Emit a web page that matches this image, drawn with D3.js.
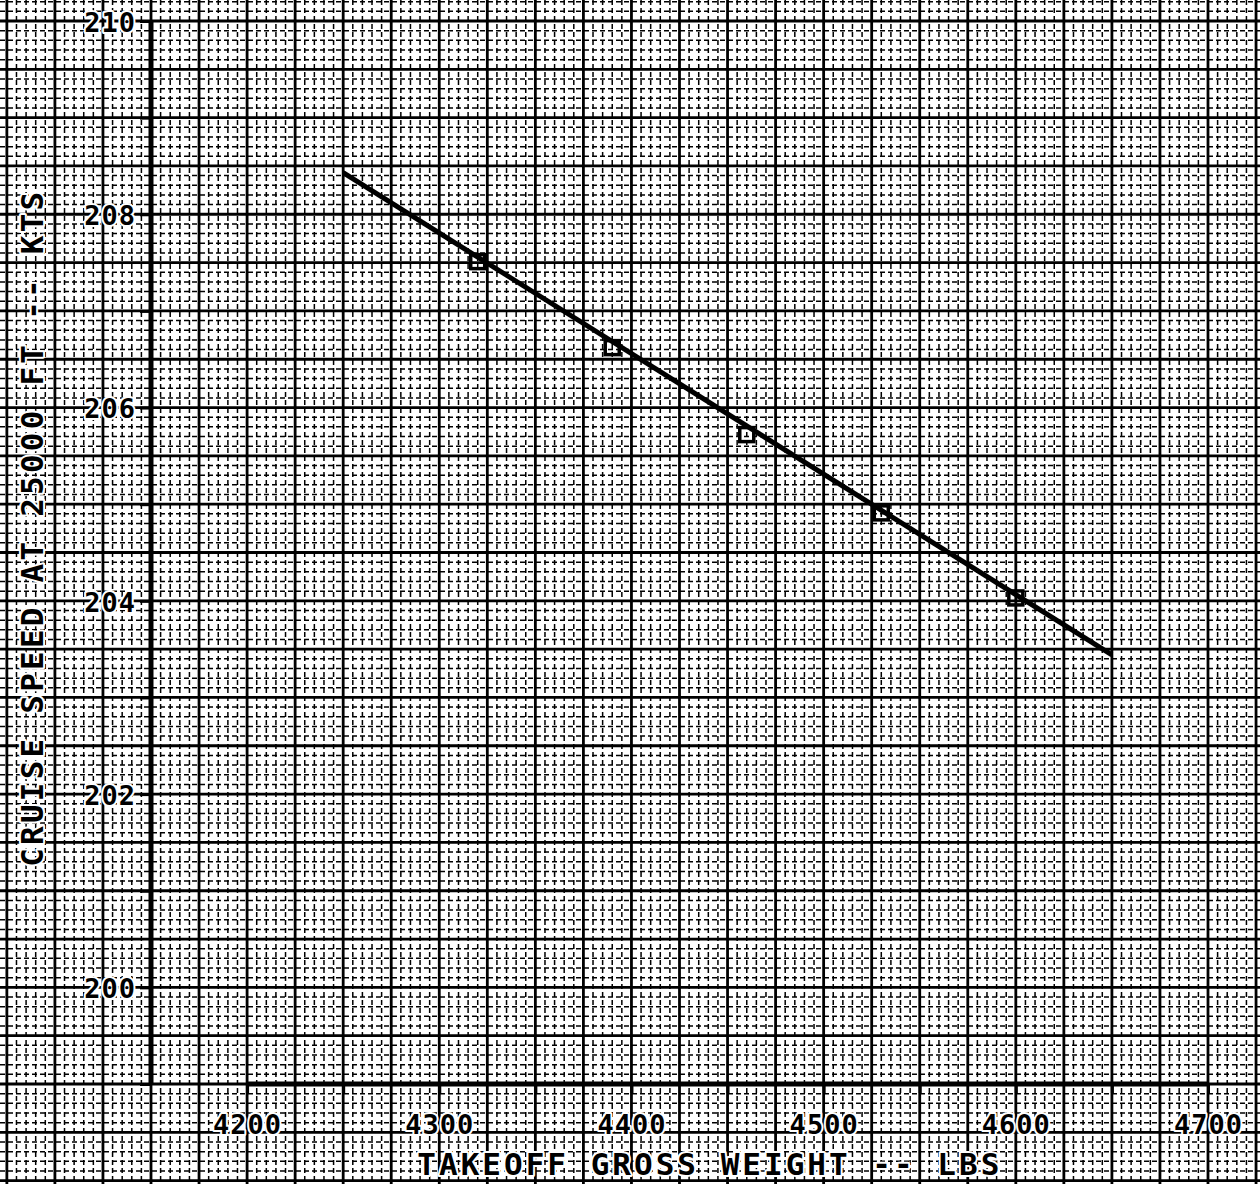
<!DOCTYPE html>
<html lang="en">
	<head>
		<meta charset="utf-8">
		<title>cruise speed vs takeoff weight</title>
		<script type="text/javascript" src="https://cdn.jsdelivr.net/npm/d3@7"></script>
		<style type="text/css">
			body{margin:0;background:#fff;}
			text{font-family:"DejaVu Sans Mono",monospace;font-weight:bold;fill:#000;}
			.halo{paint-order:stroke;stroke:#fff;stroke-width:4px;stroke-linejoin:round;}
		</style>
	</head>
	<body>
		<div id="chart"></div>
		<script type="text/javascript">

//points
var weights = [4320,4390,4460,4530,4600]
var speeds = [207.51,206.62,205.72,204.91,204.03]
//fitted line ends
var fitWeights = [4250,4650]
var fitSpeeds = [208.43,203.44]

var yTicks = [199,200,201,202,203,204,205,206,207,208,209,210]
var yLabels = ["","200","","202","","204","","206","","208","","210"]
var xTicks = [4200,4250,4300,4350,4400,4450,4500,4550,4600,4650,4700]
var xLabels = ["4200","","4300","","4400","","4500","","4600","","4700"]

var yTitle = "CRUISE SPEED AT 25000 FT -- KTS"
var xTitle = "TAKEOFF GROSS WEIGHT -- LBS"

var w = 1260
var h = 1184

// scales fitted to the paper: 4150 at the y axis, 199 at the x axis
var xScale = d3.scaleLinear().domain([4150,4700]).range([151,1208])
var yScale = d3.scaleLinear().domain([199,210]).range([1084,21])

var svg = d3.select("#chart").append("svg")
	.attr("width",w)
	.attr("height",h)

svg.append("rect").attr("width",w).attr("height",h).attr("fill","#fff")

//graph paper, minor every 5 lbs / 0.1 kt, major every 25 lbs / 0.5 kt
var paper = svg.append("g")
var xMinor = d3.range(4070,4735,5)
var yMinor = d3.range(1975,2106,1).map(function(d){return d/10})

paper.selectAll(".vminor")
	.data(xMinor.filter(function(d){return d%25!=0}))
	.enter().append("line")
	.attr("x1",function(d){return xScale(d)})
	.attr("x2",function(d){return xScale(d)})
	.attr("y1",0).attr("y2",h)
	.attr("stroke","#000").attr("stroke-width",1.5)
	.style("stroke-dasharray","5,3")

paper.selectAll(".hminor")
	.data(yMinor.filter(function(d){return Math.round(d*10)%5!=0}))
	.enter().append("line")
	.attr("y1",function(d){return yScale(d)})
	.attr("y2",function(d){return yScale(d)})
	.attr("x1",0).attr("x2",w)
	.attr("stroke","#000").attr("stroke-width",1.5)
	.style("stroke-dasharray","5,3")

paper.selectAll(".vmajor")
	.data(xMinor.filter(function(d){return d%25==0}))
	.enter().append("line")
	.attr("x1",function(d){return xScale(d)})
	.attr("x2",function(d){return xScale(d)})
	.attr("y1",0).attr("y2",h)
	.attr("stroke","#000").attr("stroke-width",2.8)

paper.selectAll(".hmajor")
	.data(yMinor.filter(function(d){return Math.round(d*10)%5==0}))
	.enter().append("line")
	.attr("y1",function(d){return yScale(d)})
	.attr("y2",function(d){return yScale(d)})
	.attr("x1",0).attr("x2",w)
	.attr("stroke","#000").attr("stroke-width",2.8)

//axes
var yAxis = d3.axisLeft(yScale).tickValues(yTicks).tickSize(11).tickPadding(4)
	.tickFormat(function(d,i){return yLabels[i]})
var xAxis = d3.axisBottom(xScale).tickValues(xTicks).tickSize(9).tickPadding(22)
	.tickFormat(function(d,i){return xLabels[i]})

var gy = svg.append("g").attr("transform","translate("+xScale(4150)+",0)").call(yAxis)
var gx = svg.append("g").attr("transform","translate(0,"+yScale(199)+")").call(xAxis)

gy.select(".domain").remove()
gx.select(".domain").remove()
svg.append("line")
	.attr("x1",xScale(4150)).attr("x2",xScale(4150))
	.attr("y1",yScale(210)).attr("y2",yScale(199))
	.attr("stroke","#000").attr("stroke-width",5)
svg.append("line")
	.attr("x1",xScale(4200)).attr("x2",xScale(4700))
	.attr("y1",yScale(199)).attr("y2",yScale(199))
	.attr("stroke","#000").attr("stroke-width",5)

gy.selectAll(".tick line").attr("stroke","#000").attr("stroke-width",3)
gx.selectAll(".tick line").attr("stroke","#000").attr("stroke-width",3)
gy.selectAll(".tick text")
	.attr("class","halo")
	.style("font-size","27px").style("letter-spacing","1px")
	.attr("font-family",null).attr("fill","#000")
	.attr("dy","0.38em")
gx.selectAll(".tick text")
	.attr("class","halo")
	.style("font-size","27px").style("letter-spacing","1px")
	.attr("font-family",null).attr("fill","#000")

//axis titles
svg.append("text")
	.text(yTitle)
	.attr("class","halo")
	.attr("transform","translate(43,"+yScale(204.74)+") rotate(-90)")
	.attr("text-anchor","middle")
	.attr("textLength",675)
	.attr("lengthAdjust","spacing")
	.style("font-size","31px")

svg.append("text")
	.text(xTitle)
	.attr("class","halo")
	.attr("x",xScale(4440))
	.attr("y",1175)
	.attr("text-anchor","middle")
	.attr("textLength",582)
	.attr("lengthAdjust","spacing")
	.style("font-size","31px")

//fitted line
var line = d3.line()
	.x(function(d){return xScale(d[0])})
	.y(function(d){return yScale(d[1])})

svg.append("path")
	.datum(d3.zip(fitWeights,fitSpeeds))
	.attr("d",line)
	.attr("fill","none")
	.attr("stroke","#000")
	.attr("stroke-width",5)

//square markers
svg.selectAll(".pt")
	.data(d3.zip(weights,speeds))
	.enter().append("rect")
	.attr("x",function(d){return xScale(d[0])-7})
	.attr("y",function(d){return yScale(d[1])-7})
	.attr("width",14)
	.attr("height",14)
	.attr("fill","none")
	.attr("stroke","#000")
	.attr("stroke-width",3.5)

		</script>
	</body>
</html>
